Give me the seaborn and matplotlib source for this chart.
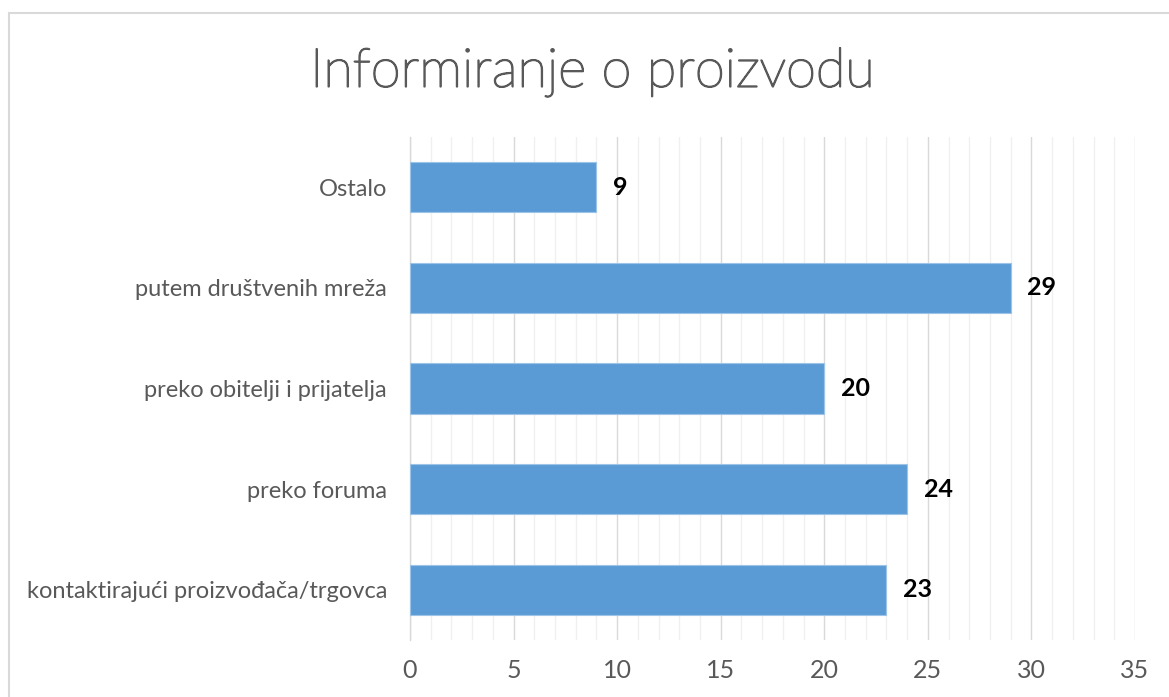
import matplotlib
matplotlib.use("Agg")
import matplotlib.pyplot as plt
import matplotlib.patheffects as pe
import seaborn as sns
import pandas as pd
from matplotlib.patches import Rectangle
from matplotlib.ticker import MultipleLocator, FixedLocator

categories = [
    "Ostalo",
    "putem društvenih mreža",
    "preko obitelji i prijatelja",
    "preko foruma",
    "kontaktirajući proizvođača/trgovca",
]
values = [9, 29, 20, 24, 23]
title = "Informiranje o proizvodu"

df = pd.DataFrame({"category": categories, "value": values})

sns.set_theme(style="white")
plt.rcParams["font.family"] = ["Lato", "DejaVu Sans"]

fig = plt.figure(figsize=(11.69, 6.97), dpi=100)
ax = fig.add_axes([410 / 1169, 1 - 640 / 697, (1135 - 410) / 1169, (640 - 137) / 697])

# outer chart border
fig.patches.append(Rectangle((8.5 / 1169, -0.05), 1.2, 1 - 12.5 / 697 + 0.05,
                             transform=fig.transFigure, fill=False,
                             edgecolor="#d9d9d9", linewidth=1.5, zorder=0))

sns.barplot(data=df, x="value", y="category", orient="h", color="#5B9BD5",
            width=0.5, edgecolor="#9dc3e6", linewidth=0.8, saturation=1, ax=ax, zorder=3)

ax.set_xlim(0, 35)
ax.set_ylim(len(categories) - 0.5, -0.5)
ax.xaxis.set_major_locator(MultipleLocator(5))
ax.xaxis.set_minor_locator(MultipleLocator(1))
ax.grid(axis="x", which="major", color="#d9d9d9", linewidth=1.0, zorder=0)
ax.grid(axis="x", which="minor", color="#f0f0f0", linewidth=1.0, zorder=0)
ax.grid(axis="y", visible=False)
ax.set_axisbelow(True)

for s in ["top", "right", "bottom"]:
    ax.spines[s].set_visible(False)
ax.spines["left"].set_color("#d9d9d9")
ax.spines["left"].set_linewidth(1.0)

ax.tick_params(axis="x", which="both", length=0, pad=14, labelsize=18, labelcolor="#595959")
ax.tick_params(axis="y", which="major", length=0, pad=16.5, labelsize=17, labelcolor="#595959")
ax.yaxis.set_minor_locator(FixedLocator([i - 0.5 for i in range(len(categories) + 1)]))
ax.tick_params(axis="y", which="minor", length=6, width=1, color="#d9d9d9", direction="out")

ax.set_xlabel("")
ax.set_ylabel("")

for i, v in enumerate(values):
    ax.text(v + 0.8, i, str(v), va="center", ha="left", fontsize=18,
            fontweight="bold", color="black")

fig.text(592 / 1169, 1 - 72 / 697, title, ha="center", va="center",
         fontsize=39, color="#595959", fontweight="light",
         path_effects=[pe.withStroke(linewidth=1.2, foreground="#595959")])

fig.savefig("out.png", dpi=100)
